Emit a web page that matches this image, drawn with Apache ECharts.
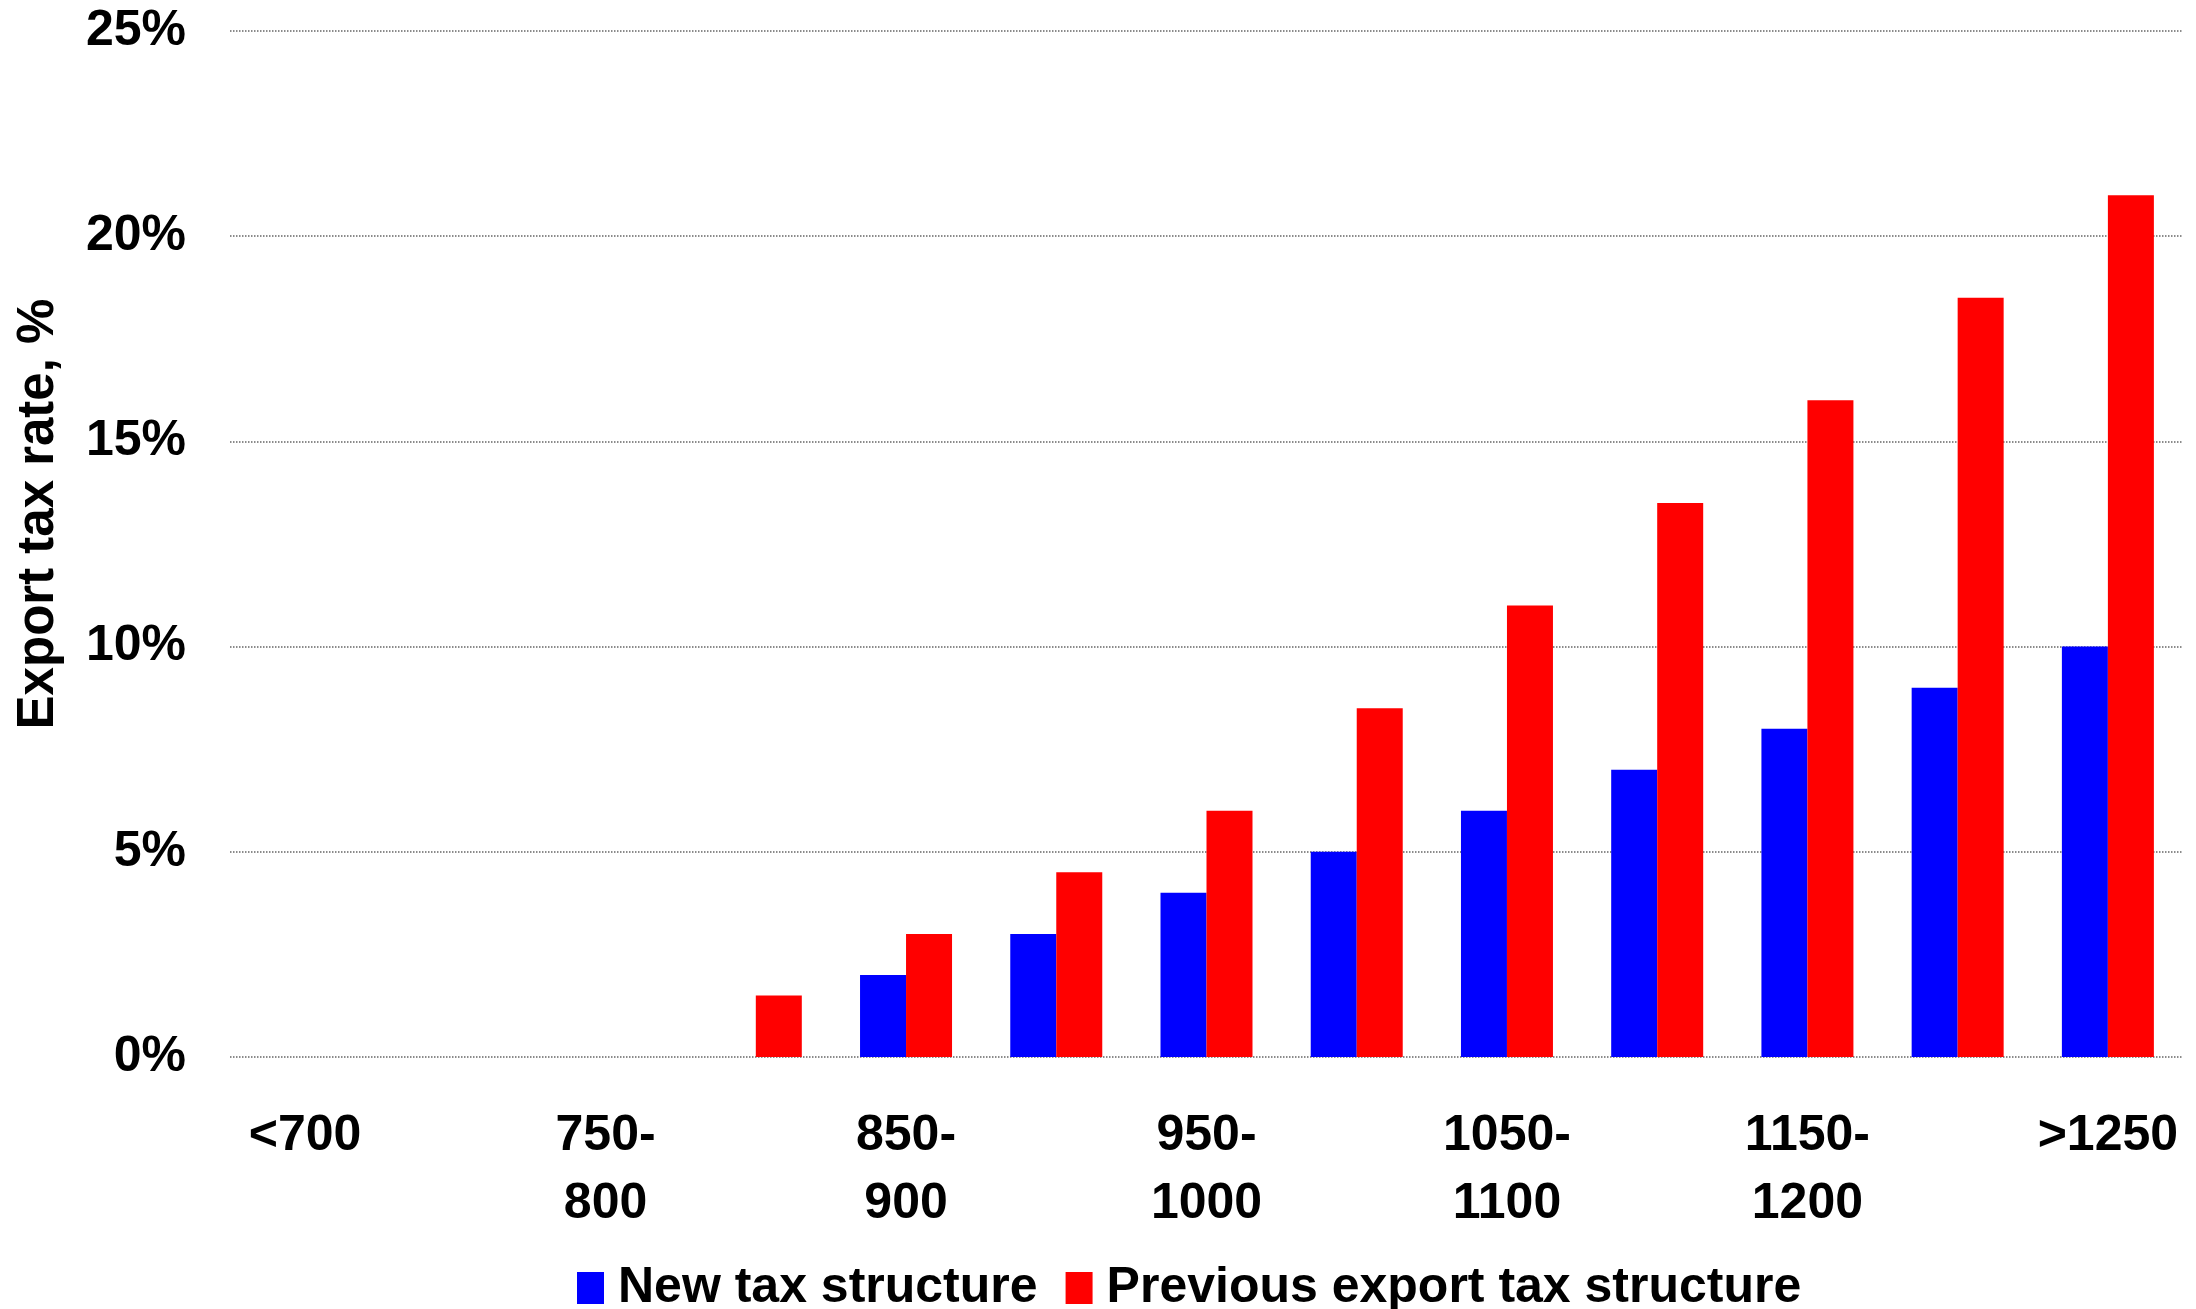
<!DOCTYPE html>
<html>
<head>
<meta charset="utf-8">
<style>
  html, body { margin: 0; padding: 0; background: #fff; }
  #chart { width: 2196px; height: 1309px; }
</style>
<script src="https://cdn.jsdelivr.net/npm/echarts@6/dist/echarts.min.js"></script>
</head>
<body>
<div id="chart"></div>
<script>
// Price bands (export price ranges)
const categories = ['<700', '700-750', '750-800', '800-850', '850-900', '900-950', '950-1000',
  '1000-1050', '1050-1100', '1100-1150', '1150-1200', '1200-1250', '>1250'];

// Export tax rate, % per price band
const newTax      = [0, 0, 0, 0, 2, 3, 4, 5, 6, 7, 8, 9, 10];
const previousTax = [0, 0, 0, 1.5, 3, 4.5, 6, 8.5, 11, 13.5, 16, 18.5, 21];

const yTicks = { min: 0, max: 25, interval: 5 };

const FONT = 'Liberation Sans, Arial, sans-serif';

const chart = echarts.init(document.getElementById('chart'), null, { renderer: 'canvas' });

chart.setOption({
  backgroundColor: '#ffffff',
  animation: false,
  grid: { left: 230, right: 13, top: 31, bottom: 252, containLabel: false },
  legend: {
    data: ['New tax structure', 'Previous export tax structure'],
    left: 572,
    top: 1258,
    itemWidth: 27,
    itemHeight: 32,
    itemGap: 28,
    icon: 'rect',
    textStyle: { fontFamily: FONT, fontSize: 50, fontWeight: 'bold', color: '#000', padding: [0, 0, 0, 9] }
  },
  xAxis: {
    type: 'category',
    data: categories,
    axisLine: { show: false },
    axisTick: { show: false },
    axisLabel: {
      interval: 1,
      margin: 45,
      fontFamily: FONT,
      fontSize: 50,
      fontWeight: 'bold',
      color: '#000',
      lineHeight: 68,
      verticalAlign: 'top',
      formatter: v => v.replace(/^(\d+)-(\d+)$/, '$1-\n$2')
    }
  },
  yAxis: {
    type: 'value',
    min: yTicks.min,
    max: yTicks.max,
    interval: yTicks.interval,
    name: 'Export tax rate, %',
    nameLocation: 'middle',
    nameGap: 166,
    nameTextStyle: { fontFamily: FONT, fontSize: 51, fontWeight: 'bold', color: '#000', padding: [0, 0, 0, 60] },
    axisLine: { show: false },
    axisTick: { show: false },
    axisLabel: {
      margin: 44,
      fontFamily: FONT,
      fontSize: 50,
      fontWeight: 'bold',
      color: '#000',
      formatter: v => v + '%'
    },
    splitLine: { show: true, lineStyle: { type: 'dotted', color: '#666', width: 1.5 } }
  },
  series: [
    {
      name: 'New tax structure',
      type: 'bar',
      data: newTax,
      barWidth: 46,
      barGap: '0%',
      itemStyle: { color: '#0000ff' }
    },
    {
      name: 'Previous export tax structure',
      type: 'bar',
      data: previousTax,
      barWidth: 46,
      barGap: '0%',
      itemStyle: { color: '#ff0000' }
    }
  ]
});
</script>
</body>
</html>
